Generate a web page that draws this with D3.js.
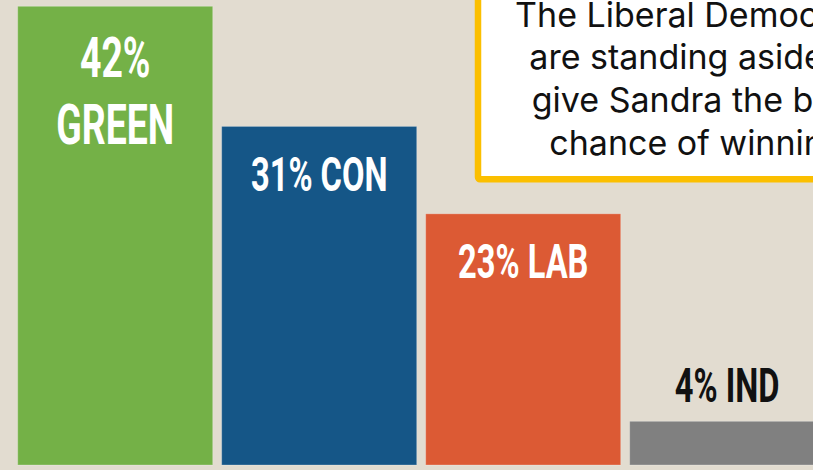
<!DOCTYPE html>
<html>
<head>
<meta charset="utf-8">
<script src="https://cdn.jsdelivr.net/npm/d3@7"></script>
<style>
html, body { margin: 0; padding: 0; background: #e2dcd0; }
svg { display: block; }
</style>
</head>
<body>
<div id="chart"></div>
<script>
// data ---------------------------------------------------------------
const parties = ['GREEN', 'CON', 'LAB', 'IND'];
const shares = [42, 31, 23, 4];
const colours = ['#74b147', '#155687', '#dc5a34', '#808080'];
const noteLines = ['The Liberal Democrats', 'are standing aside to', 'give Sandra the best', 'chance of winning'];

// svg ----------------------------------------------------------------
const width = 813, height = 470;
const svg = d3.select('#chart').append('svg')
  .attr('width', width)
  .attr('height', height);
svg.append('rect')
  .attr('width', width)
  .attr('height', height)
  .attr('fill', '#e2dcd0');

const data = parties.map((p, i) => ({ party: p, share: shares[i], colour: colours[i] }));

// scales -------------------------------------------------------------
const baseY = 465;
const xScale = d3.scaleBand()
  .domain(parties)
  .range([17.7, 824.7])
  .paddingInner(0.044)
  .paddingOuter(0);
const yScale = d3.scaleLinear()
  .domain([0, 42])
  .range([baseY, 6.3]);

// bars ---------------------------------------------------------------
svg.append('g')
  .selectAll('rect')
  .data(data)
  .enter()
  .append('rect')
  .attr('x', d => xScale(d.party))
  .attr('y', d => yScale(d.share))
  .attr('width', xScale.bandwidth())
  .attr('height', d => baseY - yScale(d.share))
  .attr('fill', d => d.colour)
  .attr('stroke', 'rgba(255,255,255,0.25)')
  .attr('stroke-width', 1);

// labels -------------------------------------------------------------
const labelFont = 'Roboto, "Liberation Sans", sans-serif';
const squeeze = 0.68;
const labelG = svg.append('g');
data.forEach(d => {
  const cx = xScale(d.party) + xScale.bandwidth() / 2;
  const top = yScale(d.share);
  const inside = d.share >= 10;
  const full = d.share + '% ' + d.party;
  // 大きいバーは2行に分ける
  const twoLine = full.length > 8;
  const lines = twoLine ? [d.share + '%', d.party] : [full];
  const size = twoLine ? 55 : 48;
  lines.forEach((t, j) => {
    let by;
    if (!inside) by = top - 19.5;
    else if (twoLine) by = top + 71 + j * 67;
    else by = top + 64.5;
    labelG.append('text')
      .attr('transform', 'translate(' + cx + ',' + by + ') scale(' + squeeze + ',1)')
      .attr('text-anchor', 'middle')
      .attr('font-family', labelFont)
      .attr('font-weight', 700)
      .attr('font-size', size + 'px')
      .attr('fill', inside ? '#ffffff' : '#111111')
      .text(t);
  });
});

// note box -----------------------------------------------------------
svg.append('rect')
  .attr('x', 478)
  .attr('y', -20)
  .attr('width', 400)
  .attr('height', 199.2)
  .attr('rx', 2)
  .attr('fill', '#ffffff')
  .attr('stroke', '#fbbf00')
  .attr('stroke-width', 6.5);

svg.append('g')
  .selectAll('text')
  .data(noteLines)
  .enter()
  .append('text')
  .attr('x', 697)
  .attr('y', (d, i) => 26.7 + i * 42.6)
  .attr('text-anchor', 'middle')
  .attr('font-family', 'Inter, "Noto Sans", sans-serif')
  .attr('font-size', '34px')
  .attr('fill', '#111111')
  .text(d => d);
</script>
</body>
</html>
